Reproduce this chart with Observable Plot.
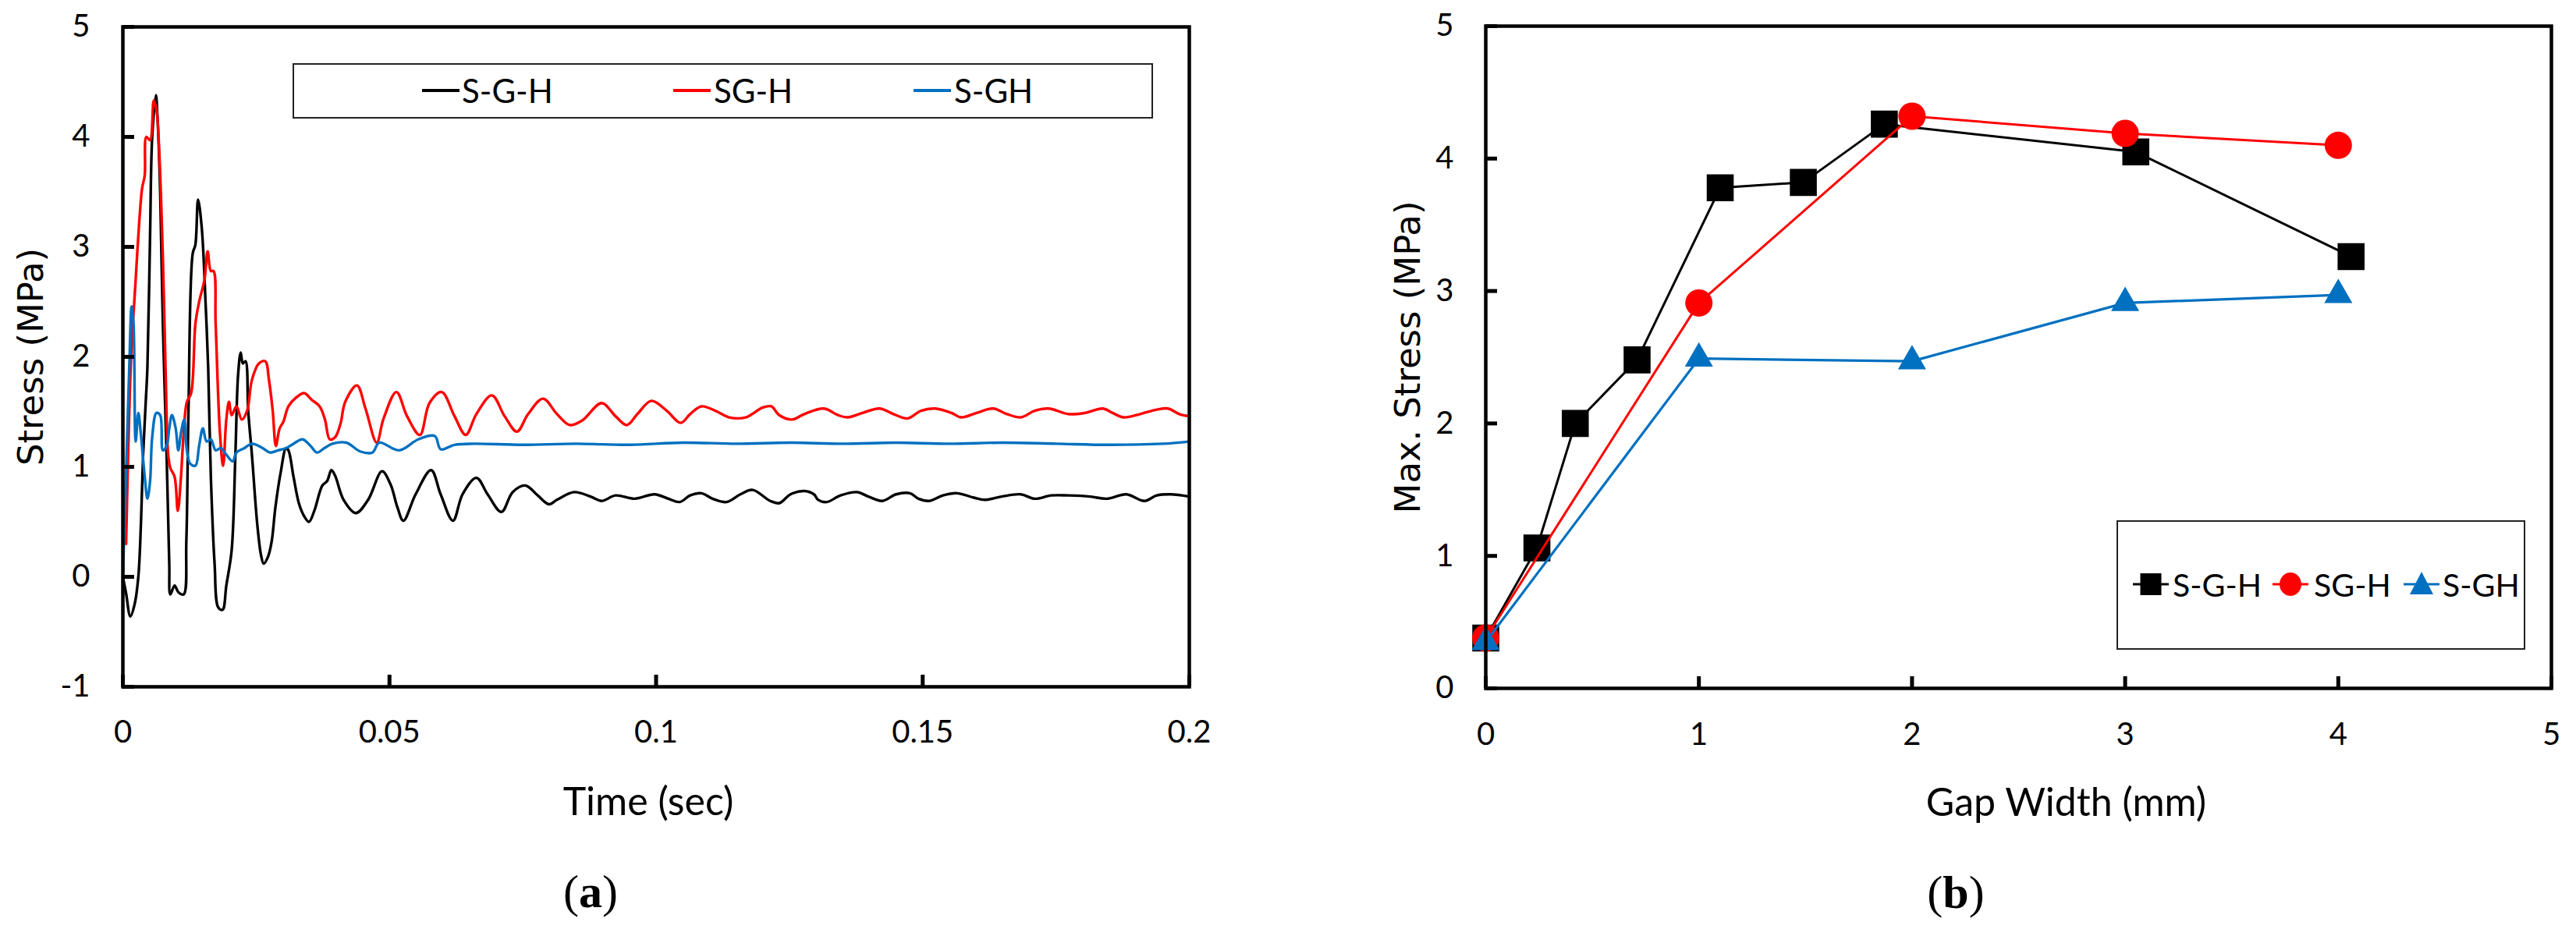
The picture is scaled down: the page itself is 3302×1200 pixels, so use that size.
<!DOCTYPE html>
<html>
<head>
<meta charset="utf-8">
<script src="https://cdn.jsdelivr.net/npm/d3@7"></script>
<script src="https://cdn.jsdelivr.net/npm/@observablehq/plot@0.6"></script>
<style>
  html, body { margin: 0; padding: 0; background: #fff; }
  #page { position: relative; width: 3302px; height: 1200px; overflow: hidden; background: #fff; }
  .abs { position: absolute; }
  .lg { font-family: Lato, "Open Sans", sans-serif; color: #000; white-space: nowrap; line-height: 1; }
  .cap { font-family: "Liberation Serif", "DejaVu Serif", serif; font-size: 60px; line-height: 1; color: #000; white-space: nowrap; }
</style>
</head>
<body>
<div id="page"></div>
<script>
// ---------- Panel (a): stress vs time, [time in ms, stress in MPa] ----------
const seriesNames = ["S-G-H", "SG-H", "S-GH"];
const seriesColors = ["#000000", "#ff0000", "#0070c0"];

const timeSGH = [
[0,0],[0.6,-0.15],[1.4,-0.36],[2.2,-0.25],[2.9,0],[3.4,0.5],[3.8,1.11],[4.3,1.6],[4.6,1.9],[5.1,3.1],[5.5,4.0],[6.2,4.38],[6.5,4.17],[7.0,3.49],[7.5,2.3],[8.2,1.11],[8.7,0.12],[8.9,-0.16],[9.7,-0.08],[10.4,-0.14],[11.4,-0.16],[11.9,0.32],[12.3,1.5],[13.1,2.94],[13.6,3.02],[14.1,3.43],[14.8,3.17],[15.5,2.5],[16.0,1.9],[16.5,0.91],[17.2,0.12],[17.9,-0.28],[18.7,-0.30],[19.4,-0.08],[20.4,0.24],[21.1,1.11],[21.6,1.83],[22.1,2.04],[22.5,1.94],[23.0,1.96],[23.5,1.51],[24.2,1.11],[25.2,0.48],[25.9,0.2],[26.4,0.12],[27.2,0.18],[27.9,0.32],[28.6,0.63],[29.6,0.95],[30.6,1.17],[31.05,1.15],[32.0,0.91],[33.0,0.67],[33.9,0.56],[34.9,0.50],[35.9,0.6],[37.4,0.83],[38.3,0.87],[39.1,0.97],[39.8,0.92],[41.4,0.70],[43.7,0.58],[46.0,0.70],[48.6,0.96],[50.2,0.84],[51.5,0.63],[52.6,0.51],[54.9,0.75],[57.8,0.97],[59.6,0.75],[61.9,0.51],[63.7,0.75],[66.3,0.90],[68.4,0.75],[71.0,0.59],[73.1,0.77],[75.5,0.83],[77.8,0.74],[79.9,0.66],[81.4,0.70],[84.6,0.77],[87.7,0.73],[89.8,0.69],[92.4,0.74],[96.0,0.71],[99.7,0.75],[102.3,0.71],[104.4,0.68],[106.4,0.74],[108.5,0.76],[110.6,0.71],[113.2,0.68],[115.8,0.75],[118.1,0.79],[121.4,0.69],[123.1,0.67],[125.2,0.75],[127.8,0.78],[129.6,0.75],[130.4,0.70],[132.0,0.68],[134.6,0.74],[137.7,0.77],[139.8,0.73],[142.4,0.69],[145.0,0.75],[147.6,0.76],[149.2,0.71],[151.2,0.69],[153.8,0.74],[156.4,0.76],[159.6,0.72],[161.6,0.70],[164.8,0.73],[168.4,0.75],[171.0,0.71],[174.1,0.74],[177.3,0.74],[181.4,0.73],[184.5,0.71],[188.2,0.75],[191.6,0.69],[193.9,0.74],[196.5,0.75],[200,0.73]
];

const timeSG_H = [
[0.6,0.3],[1.2,1.51],[1.6,2.06],[2.4,2.7],[2.9,3.1],[3.6,3.53],[4.1,3.65],[4.4,4.0],[5.1,3.97],[5.8,4.33],[6.3,4.25],[6.8,3.89],[7.5,2.9],[8.0,1.9],[8.5,1.11],[8.9,0.99],[9.7,0.91],[10.3,0.6],[10.9,0.91],[11.4,1.31],[12.0,1.59],[12.8,1.67],[13.6,2.3],[14.3,2.5],[15.3,2.7],[15.9,2.96],[16.5,2.78],[17.0,2.78],[17.4,2.3],[18.2,1.31],[18.8,1.01],[19.4,1.43],[19.9,1.59],[20.4,1.47],[21.3,1.55],[22.3,1.43],[23.3,1.51],[24.2,1.79],[25.5,1.94],[26.7,1.96],[27.4,1.79],[28.1,1.51],[28.7,1.19],[29.4,1.35],[30.1,1.41],[31.05,1.55],[32.5,1.63],[34.0,1.67],[35.4,1.61],[36.9,1.55],[37.9,1.43],[38.8,1.25],[39.8,1.27],[40.8,1.39],[41.7,1.59],[43.9,1.74],[45.5,1.53],[47.6,1.22],[48.9,1.44],[51.3,1.68],[53.3,1.46],[55.7,1.29],[57.5,1.58],[59.8,1.68],[62.2,1.46],[64.3,1.29],[66.3,1.48],[69.2,1.65],[71.6,1.46],[73.9,1.32],[76.0,1.48],[78.8,1.62],[81.4,1.48],[83.8,1.38],[86.1,1.42],[89.8,1.58],[92.4,1.46],[94.5,1.38],[96.5,1.48],[99.1,1.60],[102.0,1.51],[104.6,1.40],[106.4,1.48],[108.5,1.55],[111.1,1.51],[113.7,1.45],[116.8,1.45],[120.0,1.54],[121.6,1.55],[123.1,1.47],[125.5,1.43],[127.8,1.48],[131.5,1.53],[134.1,1.47],[135.9,1.45],[138.7,1.49],[141.9,1.53],[144.5,1.48],[147.1,1.44],[149.7,1.51],[152.3,1.53],[155.4,1.49],[157.2,1.45],[160.1,1.49],[163.2,1.53],[165.8,1.48],[168.4,1.45],[171.0,1.51],[173.6,1.53],[177.3,1.48],[180.4,1.49],[183.8,1.53],[185.6,1.49],[187.7,1.45],[190.8,1.48],[193.9,1.52],[196.0,1.53],[198.1,1.48],[200,1.46]
];

const timeS_GH = [
[0,0],[0.7,1.11],[1.2,1.9],[1.65,2.46],[2.0,2.3],[2.4,1.23],[2.9,1.49],[3.35,1.31],[4.1,0.91],[4.6,0.71],[5.1,0.87],[5.5,1.27],[6.3,1.49],[7.0,1.47],[7.5,1.15],[8.2,1.19],[8.7,1.35],[9.2,1.47],[9.9,1.35],[10.4,1.15],[10.9,1.31],[11.5,1.43],[11.9,1.19],[12.6,1.03],[13.6,1.01],[14.3,1.19],[15.0,1.35],[15.7,1.23],[16.5,1.25],[17.4,1.15],[18.4,1.17],[19.4,1.11],[20.6,1.05],[21.3,1.13],[22.8,1.17],[24.2,1.21],[26.2,1.17],[27.6,1.13],[29.1,1.15],[30.6,1.17],[32.0,1.21],[33.7,1.25],[35.2,1.19],[36.4,1.13],[37.8,1.17],[39.3,1.21],[41.9,1.22],[44.5,1.14],[46.8,1.13],[48.1,1.22],[51.8,1.15],[55.4,1.25],[58.5,1.28],[59.6,1.16],[62.2,1.20],[65.8,1.21],[75,1.20],[85,1.21],[95,1.20],[105,1.22],[115,1.21],[125,1.22],[135,1.21],[145,1.22],[155,1.21],[165,1.22],[175,1.21],[185,1.20],[195,1.21],[200,1.23]
];

const timeTicks = [0, 0.05, 0.1, 0.15, 0.2];
const stressTicksA = [-1, 0, 1, 2, 3, 4, 5];

// ---------- Panel (b): max stress vs gap width ----------
const gapSGH    = [0, 0.24, 0.42, 0.71, 1.1, 1.49, 1.87, 3.05, 4.06];
const maxSGH    = [0.38, 1.06, 2.0, 2.48, 3.78, 3.82, 4.26, 4.05, 3.26];
const gapSG_H   = [0, 1, 2, 3, 4];
const maxSG_H   = [0.38, 2.91, 4.32, 4.19, 4.10];
const gapS_GH   = [0, 1, 2, 3, 4];
const maxS_GH   = [0.35, 2.49, 2.47, 2.91, 2.97];

const gapTicks = [0, 1, 2, 3, 4, 5];
const stressTicksB = [0, 1, 2, 3, 4, 5];

// ---------- build ----------
const page = document.getElementById("page");
const toRows = arr => arr.map(([ms, v]) => ({t: ms / 1000, v}));
const zipRows = (xs, ys) => xs.map((x, i) => ({x, y: ys[i]}));

const axisFont = {fontFamily: "Lato, 'Open Sans', sans-serif", fontSize: "40px", color: "#000", background: "transparent", overflow: "visible"};
const blank = () => "";
const plain = d => String(d);

function axisMarks(xTicks, yTicks, xPad, yPad) {
  return [
    Plot.axisX({ticks: xTicks, tickSize: 15, dy: -15, strokeWidth: 5, tickFormat: blank, label: null}),
    Plot.axisY({ticks: yTicks, tickSize: 15, dx: 15, strokeWidth: 5, tickFormat: blank, label: null}),
    Plot.axisX({ticks: xTicks, tickSize: 0, tickPadding: xPad, tickFormat: plain, label: null, fontSize: 40}),
    Plot.axisY({ticks: yTicks, tickSize: 0, tickPadding: yPad, tickFormat: plain, label: null, fontSize: 40})
  ];
}

const lineOpts = (i) => ({x: "t", y: "v", stroke: seriesColors[i], strokeWidth: 3.4, curve: "catmull-rom", strokeLinejoin: "round"});

const chartA = Plot.plot({
  width: 1700, height: 1200,
  marginLeft: 157, marginRight: 176, marginTop: 34, marginBottom: 320,
  x: {domain: [0, 0.2]},
  y: {domain: [-1, 5]},
  style: axisFont,
  marks: [
    Plot.line(toRows(timeSGH),  lineOpts(0)),
    Plot.line(toRows(timeSG_H), lineOpts(1)),
    Plot.line(toRows(timeS_GH), lineOpts(2)),
    Plot.frame({stroke: "#000", strokeWidth: 4.5}),
    ...axisMarks(timeTicks, stressTicksA, 43, 42),
    Plot.text(["Time (sec)"], {text: d => d, frameAnchor: "bottom", dy: 148, dx: -10, textAnchor: "middle", lineAnchor: "middle", fontSize: 50}),
    Plot.text(["Stress (MPa)"], {text: d => d, frameAnchor: "left", dx: -117, rotate: -90, textAnchor: "middle", lineAnchor: "middle", fontSize: 45, fontFamily: "DejaVu Sans"})
  ]
});
chartA.style.position = "absolute";
chartA.style.left = "0px";
chartA.style.top = "0px";
page.appendChild(chartA);

const chartB = Plot.plot({
  width: 1602, height: 1200,
  marginLeft: 204, marginRight: 32, marginTop: 33, marginBottom: 318,
  x: {domain: [0, 5]},
  y: {domain: [0, 5]},
  style: axisFont,
  marks: [
    Plot.line(zipRows(gapSGH, maxSGH), {x: "x", y: "y", stroke: seriesColors[0], strokeWidth: 3}),
    Plot.dot(zipRows(gapSGH, maxSGH), {x: "x", y: "y", symbol: "square", r: 19.5, fill: seriesColors[0], stroke: "none"}),
    Plot.line(zipRows(gapSG_H, maxSG_H), {x: "x", y: "y", stroke: seriesColors[1], strokeWidth: 3}),
    Plot.dot(zipRows(gapSG_H, maxSG_H), {x: "x", y: "y", symbol: "circle", r: 17.5, fill: seriesColors[1], stroke: "none"}),
    Plot.line(zipRows(gapS_GH, maxS_GH), {x: "x", y: "y", stroke: seriesColors[2], strokeWidth: 3.2}),
    Plot.dot(zipRows(gapS_GH, maxS_GH), {x: "x", y: "y", symbol: "triangle", r: 13.4, fill: seriesColors[2], stroke: "none"}),
    Plot.frame({stroke: "#000", strokeWidth: 4.5}),
    ...axisMarks(gapTicks, stressTicksB, 44, 41),
    Plot.text(["Gap Width (mm)"], {text: d => d, frameAnchor: "bottom", dy: 147, dx: 61, textAnchor: "middle", lineAnchor: "middle", fontSize: 50}),
    Plot.text(["Max. Stress (MPa)"], {text: d => d, frameAnchor: "left", dx: -99, rotate: -90, textAnchor: "middle", lineAnchor: "middle", fontSize: 45, fontFamily: "DejaVu Sans"})
  ]
});
chartB.style.position = "absolute";
chartB.style.left = "1700px";
chartB.style.top = "0px";
page.appendChild(chartB);

// ---------- helpers for legends / captions ----------
function el(tag, css, html) {
  const e = document.createElement(tag);
  e.className = "abs";
  Object.assign(e.style, css);
  if (html != null) e.innerHTML = html;
  page.appendChild(e);
  return e;
}

// Legend (a)
el("div", {left: "375px", top: "81px", width: "1103px", height: "71px", border: "2.5px solid #222", boxSizing: "border-box", background: "#fff"});
const legA = [[541, 592], [863, 915], [1171, 1223]];
seriesNames.forEach((name, i) => {
  const [lx, tx] = legA[i];
  el("div", {left: lx + "px", top: "114px", width: "48px", height: "3.5px", background: seriesColors[i]});
  const t = el("div", {left: tx + "px", top: "95px", fontSize: "42px", height: "42px"}, name);
  t.classList.add("lg");
});

// Legend (b)
el("div", {left: "2713px", top: "667px", width: "524px", height: "166px", border: "2.5px solid #222", boxSizing: "border-box", background: "#fff"});
const legB = [
  {cx: 2757, tx: 2785, shape: "square"},
  {cx: 2936, tx: 2966, shape: "circle"},
  {cx: 3104, tx: 3131, shape: "triangle"}
];
legB.forEach((L, i) => {
  const w = 46, h = 40;
  const svgNS = "http://www.w3.org/2000/svg";
  const s = document.createElementNS(svgNS, "svg");
  s.setAttribute("width", w); s.setAttribute("height", h);
  s.style.position = "absolute";
  s.style.left = (L.cx - w / 2) + "px";
  s.style.top = (749 - h / 2) + "px";
  s.style.overflow = "visible";
  const line = document.createElementNS(svgNS, "line");
  line.setAttribute("x1", 0); line.setAttribute("x2", w);
  line.setAttribute("y1", h / 2); line.setAttribute("y2", h / 2);
  line.setAttribute("stroke", seriesColors[i]); line.setAttribute("stroke-width", 3);
  s.appendChild(line);
  let m;
  if (L.shape === "square") {
    m = document.createElementNS(svgNS, "rect");
    m.setAttribute("x", w / 2 - 13.5); m.setAttribute("y", h / 2 - 14); m.setAttribute("width", 27); m.setAttribute("height", 28);
  } else if (L.shape === "circle") {
    m = document.createElementNS(svgNS, "ellipse");
    m.setAttribute("cx", w / 2); m.setAttribute("cy", h / 2); m.setAttribute("rx", 14); m.setAttribute("ry", 15);
  } else {
    m = document.createElementNS(svgNS, "path");
    m.setAttribute("d", `M${w/2},${h/2 - 16} L${w/2 + 15},${h/2 + 13} L${w/2 - 15},${h/2 + 13} Z`);
  }
  m.setAttribute("fill", seriesColors[i]);
  s.appendChild(m);
  page.appendChild(s);
  const t = el("div", {left: L.tx + "px", top: "729px", fontSize: "41px", height: "41px"}, seriesNames[i]);
  t.classList.add("lg");
});

// Captions
const capA = el("div", {left: "757px", top: "1143px", transform: "translate(-50%, -50%)"}, "(<b>a</b>)");
capA.classList.add("cap");
const capB = el("div", {left: "2507px", top: "1144px", transform: "translate(-50%, -50%)"}, "(<b>b</b>)");
capB.classList.add("cap");
</script>
</body>
</html>
